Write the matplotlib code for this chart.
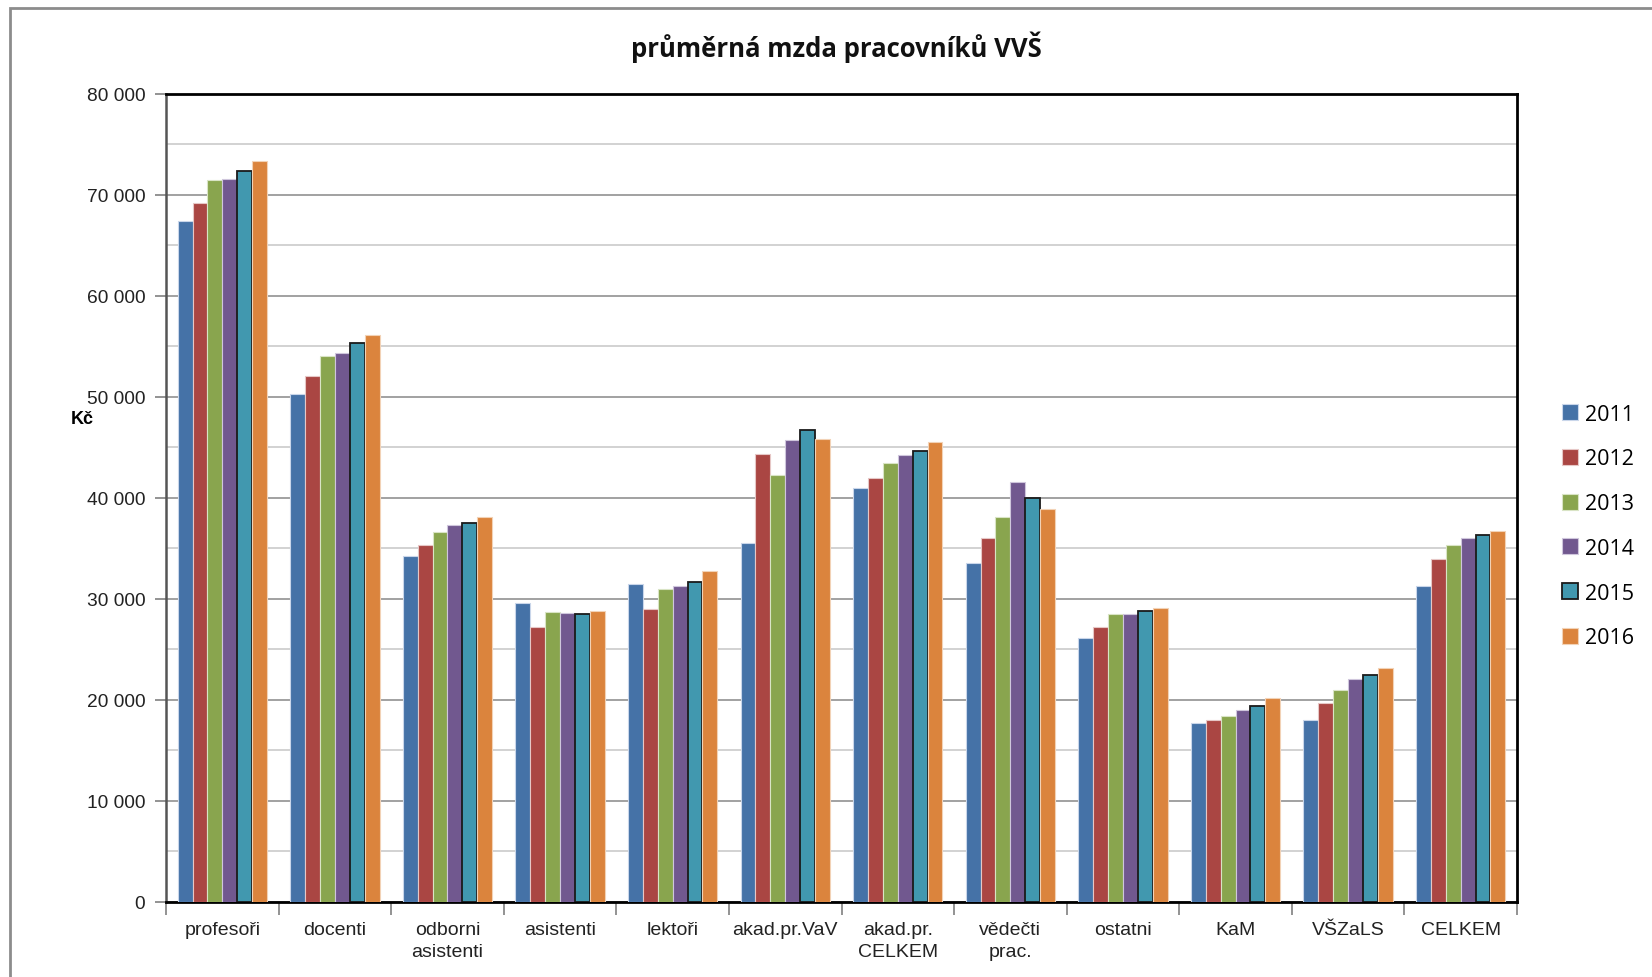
import matplotlib
matplotlib.use("Agg")
import matplotlib.pyplot as plt
import matplotlib.patches as mpatches
from matplotlib.ticker import MultipleLocator, FuncFormatter, FixedLocator
import numpy as np

# ── Data ────────────────────────────────────────────────────────────────────
categories = ["profesoři", "docenti", "odborni\nasistenti", "asistenti", "lektoři",
              "akad.pr.VaV", "akad.pr.\nCELKEM", "vědečti\nprac.", "ostatni",
              "KaM", "VŠZaLS", "CELKEM"]
years = ["2011", "2012", "2013", "2014", "2015", "2016"]

v2011 = [67400, 50240, 34200, 29620, 31470, 35520, 41000, 33580, 26150, 17680, 18040, 31240]
v2012 = [69140, 52000, 35330, 27210, 28960, 44360, 41920, 36020, 27180, 18040, 19660, 33940]
v2013 = [71440, 53980, 36580, 28700, 30930, 42250, 43410, 38100, 28480, 18400, 20940, 35300]
v2014 = [71570, 54290, 37280, 28560, 31240, 45750, 44200, 41550, 28480, 18970, 22100, 36020]
v2015 = [72330, 55300, 37470, 28530, 31660, 46700, 44660, 40000, 28760, 19430, 22490, 36320]
v2016 = [73290, 56140, 38100, 28830, 32750, 45840, 45520, 38890, 29120, 20150, 23120, 36710]
series = [v2011, v2012, v2013, v2014, v2015, v2016]

colors = ["#4572A7", "#AA4643", "#89A54E", "#71588F", "#4198AF", "#DB843D"]
edges = ["#c9d6ea", "#e6c7c6", "#d9e4c5", "#cfc6dc", "#1a1a1a", "#f2d2b6"]

narrow = ["Liberation Sans Narrow", "Liberation Sans", "DejaVu Sans"]

# ── Figure ──────────────────────────────────────────────────────────────────
fig = plt.figure(figsize=(16.52, 9.78), dpi=100)
fig.patch.set_facecolor("white")

# outer chart-area frame (cut by the image edges right/bottom)
fig.patches.append(mpatches.Rectangle(
    (10 / 1652, -0.05), 1.2, 1 - 9 / 978 + 0.05,
    transform=fig.transFigure, fill=False, edgecolor="#8c8c8c", linewidth=2.0))

ax = fig.add_axes([166 / 1652, 1 - 903 / 978, (1517 - 166) / 1652, (903 - 94.5) / 978])

n = len(categories)
x = np.arange(n)
bw = 0.1323
for i, (vals, c, ec) in enumerate(zip(series, colors, edges)):
    lw = 1.3 if i == 4 else 0.8
    ax.bar(x + (i - 2.5) * bw, vals, width=bw, color=c, edgecolor=ec,
           linewidth=lw, label=years[i], zorder=3)

ax.set_xlim(-0.5, n - 0.5)
ax.set_ylim(0, 80000)

# grid
ax.yaxis.set_major_locator(MultipleLocator(10000))
ax.yaxis.set_minor_locator(MultipleLocator(5000))
ax.grid(axis="y", which="major", color="#9a9a9a", linewidth=1.3, zorder=0)
ax.grid(axis="y", which="minor", color="#cfcfcf", linewidth=1.3, zorder=0)
ax.set_axisbelow(True)
ax.yaxis.set_major_formatter(FuncFormatter(lambda v, p: f"{int(v):,}".replace(",", " ")))
ax.tick_params(axis="y", which="major", length=8, width=1.2, color="#808080",
               labelsize=13.8, labelcolor="#222222", pad=7)
ax.tick_params(axis="y", which="minor", length=0)
for lab in ax.get_yticklabels():
    lab.set_family(narrow)

# x ticks: labels at group centres, tick marks at boundaries
ax.xaxis.set_major_locator(FixedLocator(x))
ax.set_xticklabels(categories, family=narrow, fontsize=14, color="#222222",
                   linespacing=1.35)
ax.xaxis.set_minor_locator(FixedLocator(np.arange(-0.5, n, 1.0)))
ax.tick_params(axis="x", which="major", length=0, pad=14)
ax.tick_params(axis="x", which="minor", length=9, width=1.2, color="#808080")

for side in ("top", "right", "bottom"):
    ax.spines[side].set_color("black")
    ax.spines[side].set_linewidth(2.0)
ax.spines["left"].set_color("#555555")
ax.spines["left"].set_linewidth(1.8)

# titles
fig.text(836 / 1652, 1 - 47 / 978, "průměrná mzda pracovníků VVŠ",
         ha="center", va="center", fontsize=18.5, fontweight="bold",
         family=["Open Sans", "DejaVu Sans"], color="#111111")
fig.text(82 / 1652, 1 - 420 / 978, "Kč", ha="center", va="center",
         fontsize=13, fontweight="bold", family=["Liberation Sans", "DejaVu Sans"])

# legend
leg = fig.legend(loc="center left", bbox_to_anchor=(1553 / 1652, 1 - 527 / 978),
                 frameon=False, prop={"family": ["Open Sans", "DejaVu Sans"], "size": 15.5},
                 handlelength=0.75, handleheight=0.75, handletextpad=0.35,
                 labelspacing=1.1, borderaxespad=0)

fig.savefig("out.png", dpi=100, facecolor="white")
